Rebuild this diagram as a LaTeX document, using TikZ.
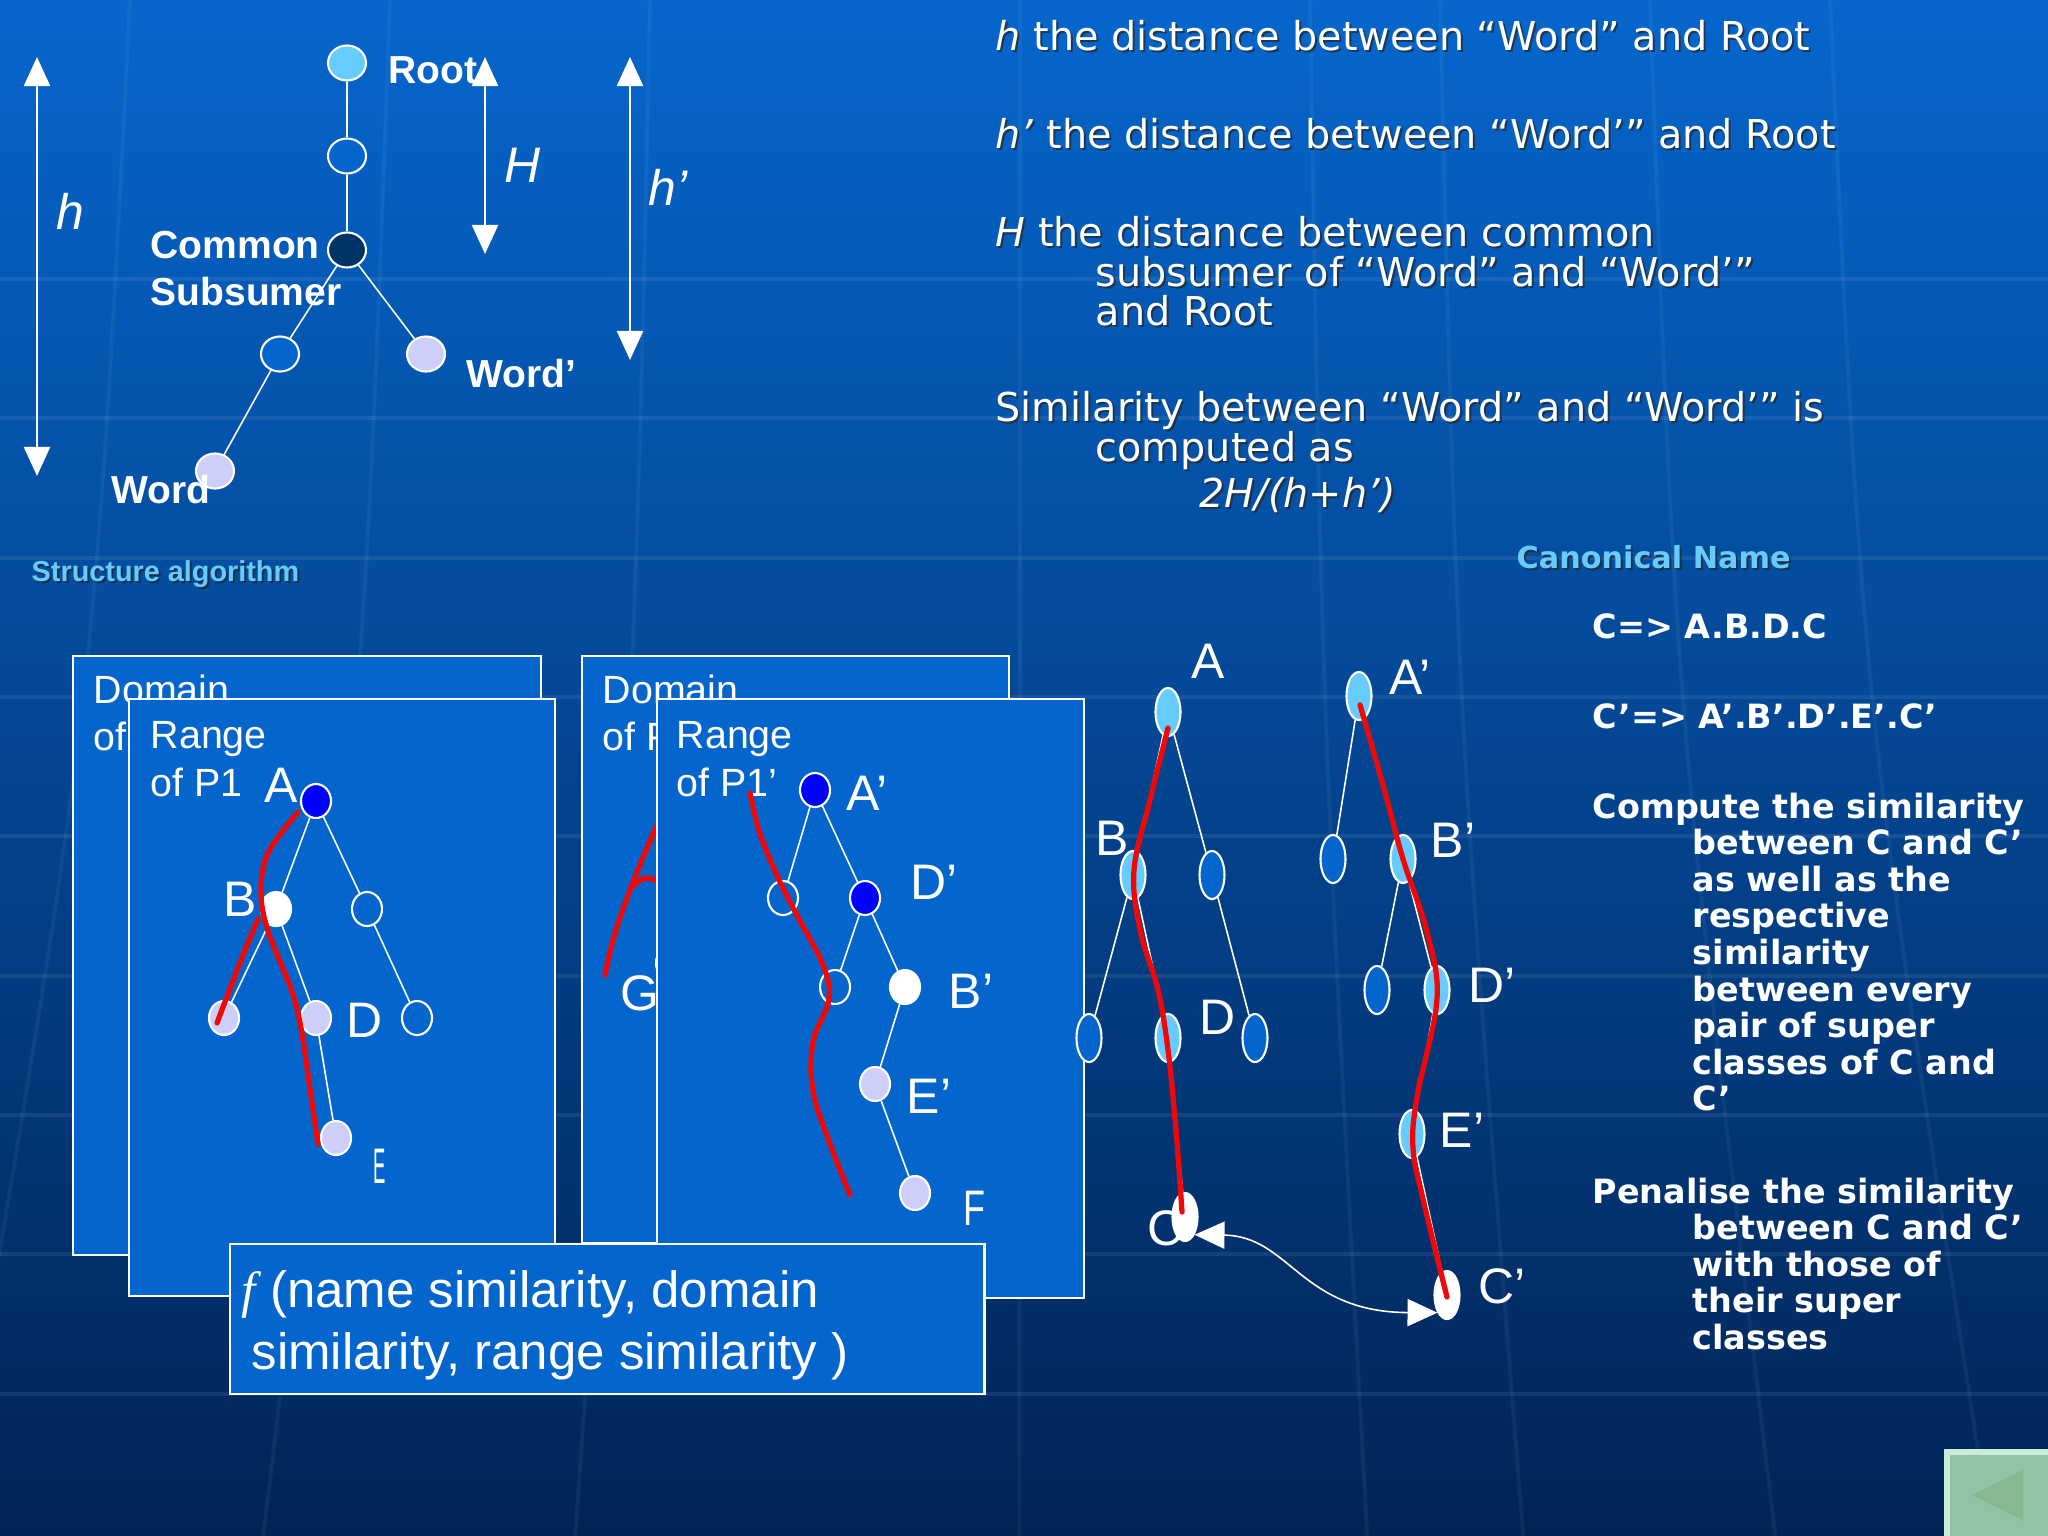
\documentclass[tikz,border=0pt]{standalone}
\usepackage{fontspec}
\usepackage{graphicx}
\setmainfont{Liberation Sans}
\newfontfamily\dejavu{DejaVu Sans}
\newfontfamily\timesf{Liberation Serif}
\usetikzlibrary{shapes.geometric,arrows.meta}

\definecolor{bgtop}{RGB}{6,102,204}
\definecolor{bgmid}{RGB}{3,72,152}
\definecolor{bgbot}{RGB}{1,36,86}
\definecolor{panelblue}{RGB}{4,102,204}
\definecolor{lightblue}{RGB}{102,204,255}
\definecolor{navy}{RGB}{0,51,102}
\definecolor{lavender}{RGB}{206,206,250}
\definecolor{penred}{RGB}{240,8,8}
\definecolor{btngreen}{RGB}{143,196,164}
\definecolor{btnlight}{RGB}{200,236,214}
\definecolor{btnshade}{RGB}{134,184,146}

% text with a dark drop shadow: style, name, position, text
\newcommand{\shtext}[4]{%
  \node[#1, text=black!85, opacity=0.7] (#2s) at ([shift={(2,2)}]#3) {#4};
  \node[#1] (#2) at (#3) {#4};}

\begin{document}
\begin{tikzpicture}[x=0.01cm, y=-0.01cm,
  topnode/.style={ellipse, draw=white, line width=0.6pt, minimum width=0.38cm, minimum height=0.35cm, inner sep=0pt},
  bignode/.style={ellipse, draw=white, line width=0.6pt, minimum width=0.25cm, minimum height=0.48cm, inner sep=0pt},
  pnode/.style={ellipse, draw=white, line width=0.6pt, minimum width=0.30cm, minimum height=0.34cm, inner sep=0pt},
  branch/.style={white, line width=0.45pt},
  pen/.style={penred, line width=1.5pt, line cap=round, line join=round},
  bigarrow/.style={white, line width=0.75pt, >={Triangle[width=7.4pt,length=8.3pt]}, <->},
  gridline/.style={white, opacity=0.08, line width=1.1pt},
  panel/.style={draw=white, fill=panelblue, line width=0.6pt, anchor=north west, inner sep=0pt},
  tlabel/.style={text=white, font=\fontsize{11.1}{13}\selectfont\bfseries, inner sep=0pt, anchor=base west},
  itlabel/.style={text=white, font=\fontsize{14.2}{16}\selectfont\itshape, inner sep=0pt, anchor=base west},
  treelab/.style={text=white, font=\fontsize{14.2}{16}\selectfont, inner sep=0pt},
  toptxt/.style={text=white, font=\dejavu\fontsize{11.3}{13}\selectfont, inner sep=0pt, anchor=base west},
  capname/.style={text=lightblue, font=\fontsize{8.2}{10}\selectfont\bfseries, inner sep=0pt, anchor=base west},
  cantitle/.style={text=lightblue, font=\dejavu\bfseries\fontsize{8.6}{10}\selectfont, inner sep=0pt, anchor=base west},
  canon/.style={text=white, font=\dejavu\bfseries\fontsize{9.5}{11}\selectfont, inner sep=0pt, anchor=base west},
  paneltxt/.style={text=white, font=\fontsize{11.2}{13}\selectfont, inner sep=0pt, anchor=base west},
  ftxt/.style={text=white, font=\fontsize{14.5}{17}\selectfont, inner sep=0pt, anchor=base west}]

\useasboundingbox (0,0) rectangle (2048,1536);
\shade[top color=bgtop, middle color=bgmid, bottom color=bgbot] (0,0) rectangle (2048,1536);
\foreach \yy in {279,418,558,697,836,976,1115,1254,1394}
  \draw[gridline] (0,\yy) -- (2048,\yy);
\foreach \xx in {130,390,650,1020,1310,1440,1650,1830}
  \draw[gridline, opacity=0.05] (\xx,0) .. controls ({\xx+(\xx-1024)*0.04},700) .. ({\xx+(\xx-1024)*0.2},1536);

% structure algorithm tree
\node[topnode, fill=lightblue] (root) at (347,63) {};
\node[topnode, fill=panelblue] (mid) at (347,156) {};
\node[topnode, fill=navy] (cs) at (347,250) {};
\node[topnode, fill=panelblue] (lft) at (280,354) {};
\node[topnode, fill=lavender] (wordp) at (426,354) {};
\node[topnode, fill=lavender] (word) at (215,471) {};
\draw[branch] (root) -- (mid);
\draw[branch] (mid) -- (cs);
\draw[branch] (cs) -- (lft);
\draw[branch] (lft) -- (word);
\draw[branch] (cs) -- (wordp);
\node[tlabel] (rootlab) at (388,83) {Root};
\node[tlabel] (comlab) at (150,258) {Common};
\node[tlabel] (sublab) at (150,305) {Subsumer};
\node[tlabel] (wplab) at (466,387) {Word’};
\node[tlabel] (wlab) at (111,503) {Word};
\coordinate (hT) at (37,57); \coordinate (hB) at (37,476);
\coordinate (HT) at (485,57); \coordinate (HB) at (485,254);
\coordinate (hpT) at (630,57); \coordinate (hpB) at (630,360);
\draw[bigarrow] (hT) -- (hB);
\draw[bigarrow] (HT) -- (HB);
\draw[bigarrow] (hpT) -- (hpB);
\node[itlabel] (hlab) at (56,229) {h};
\node[itlabel] (Hlab) at (504,182) {H};
\node[itlabel] (hplab) at (648,205) {h’};
\shtext{capname}{salg}{31,581}{Structure algorithm}

% definitions
\shtext{toptxt}{t1}{995,50}{\textit{h} the distance between “Word” and Root}
\shtext{toptxt}{t2}{995,148}{\textit{h’} the distance between “Word’” and Root}
\shtext{toptxt}{t3}{995,246}{\textit{H} the distance between common}
\shtext{toptxt}{t3b}{1095,286}{subsumer of “Word” and “Word’”}
\shtext{toptxt}{t3c}{1095,325}{and Root}
\shtext{toptxt}{t4}{995,421}{Similarity between “Word” and “Word’” is}
\shtext{toptxt}{t4b}{1095,461}{computed as}
\shtext{toptxt}{t4c}{1199,507}{\textit{2H/(h+h’)}}

% domain and range panels
\node[panel, minimum width=4.68cm, minimum height=5.99cm] (dom1) at (72,655) {};
\node[paneltxt] (dom1a) at (93,703) {Domain};
\node[paneltxt] (dom1b) at (93,750) {of P1};
\node[panel, minimum width=4.26cm, minimum height=5.97cm] (ran1) at (128,698) {};
\node[paneltxt] (ran1a) at (150,748) {Range};
\node[paneltxt] (ran1b) at (150,796) {of P1};
\node[treelab] (pAl) at (281,785) {A};
\node[treelab] (pBl) at (240,899) {B};
\node[treelab] (pDl) at (365,1020) {D};
\node[treelab] (pEl) at (380,1166) {\scalebox{0.37}[1]{E}};
\node[pnode, fill=blue] (pA) at (316,801) {};
\node[pnode, fill=white] (pB) at (276,909) {};
\node[pnode, fill=panelblue] (pR) at (367,909) {};
\node[pnode, fill=lavender] (pL) at (224,1018) {};
\node[pnode, fill=lavender] (pD) at (316,1018) {};
\node[pnode, fill=panelblue] (pRR) at (417,1018) {};
\node[pnode, fill=lavender] (pE) at (336,1138) {};
\draw[branch] (pA) -- (pB);
\draw[branch] (pA) -- (pR);
\draw[branch] (pB) -- (pL);
\draw[branch] (pB) -- (pD);
\draw[branch] (pR) -- (pRR);
\draw[branch] (pD) -- (pE);
\draw[pen] plot[smooth, tension=0.6] coordinates {(298,812) (268,853) (261,892) (268,931) (291,989) (301,1028) (311,1096) (318,1144)};
\draw[pen] plot[smooth, tension=0.6] coordinates {(258,919) (241,960) (217,1023)};

\node[panel, minimum width=4.27cm, minimum height=5.87cm] (dom2) at (581,655) {};
\node[paneltxt] (dom2a) at (602,703) {Domain};
\node[paneltxt] (dom2b) at (602,750) {of P1’};
\node[treelab] (gl) at (640,993) {G};
\node[pnode, fill=lavender] (gnode) at (671,963) {};
\draw[pen] plot[smooth, tension=0.6] coordinates {(605,975) (615,933) (635,877) (657,825)};
\draw[pen] plot[smooth, tension=0.6] coordinates {(633,886) (645,878) (660,882)};
\node[panel, minimum width=4.27cm, minimum height=5.99cm] (ran2) at (656,698) {};
\node[paneltxt] (ran2a) at (676,748) {Range};
\node[paneltxt] (ran2b) at (676,796) {of P1’};
\node[treelab] (qAl) at (867,793) {A’};
\node[treelab] (qDl) at (934,882) {D’};
\node[treelab] (qBl) at (971,991) {B’};
\node[treelab] (qEl) at (929,1096) {E’};
\node[treelab] (qFl) at (974,1208) {\scalebox{0.72}[1]{F}};
\node[pnode, fill=blue] (qA) at (815,790) {};
\node[pnode, fill=panelblue] (qL) at (783,898) {};
\node[pnode, fill=blue] (qD) at (865,898) {};
\node[pnode, fill=panelblue] (qDL) at (835,987) {};
\node[pnode, fill=white] (qB) at (905,987) {};
\node[pnode, fill=lavender] (qE) at (875,1084) {};
\node[pnode, fill=lavender] (qF) at (915,1193) {};
\draw[branch] (qA) -- (qL);
\draw[branch] (qA) -- (qD);
\draw[branch] (qD) -- (qDL);
\draw[branch] (qD) -- (qB);
\draw[branch] (qB) -- (qE);
\draw[branch] (qE) -- (qF);
\draw[pen] plot[smooth, tension=0.6] coordinates {(750,793) (760,834) (780,882) (800,921) (823,965) (829,999) (813,1042) (813,1091) (830,1144) (850,1195)};

\node[panel, minimum width=7.54cm, minimum height=1.5cm] (fbox) at (229,1243) {};
\node[ftxt] (f1) at (241,1307) {{\timesf\itshape f} (name similarity, domain};
\node[ftxt] (f2) at (251,1369) {similarity, range similarity )};

% the two class hierarchies
\node[treelab] (bAl) at (1208,661) {A};
\node[treelab] (bBl) at (1112,838) {B};
\node[treelab] (bDl) at (1218,1017) {D};
\node[treelab] (bCl) at (1166,1228) {C};
\node[bignode, fill=lightblue] (bA) at (1168,712) {};
\node[bignode, fill=lightblue] (bB) at (1133,875) {};
\node[bignode, fill=panelblue] (bR) at (1212,875) {};
\node[bignode, fill=panelblue] (bL) at (1089,1038) {};
\node[bignode, fill=lightblue] (bD) at (1168,1038) {};
\node[bignode, fill=panelblue] (bRR) at (1255,1038) {};
\node[bignode, fill=white] (bC) at (1185,1217) {};
\draw[branch] (bA) -- (bB);
\draw[branch] (bA) -- (bR);
\draw[branch] (bB) -- (bL);
\draw[branch] (bB) -- (bD);
\draw[branch] (bR) -- (bRR);
\draw[branch] (bD) -- (bC);

\node[treelab] (rAl) at (1410,677) {A’};
\node[treelab] (rBl) at (1453,840) {B’};
\node[treelab] (rDl) at (1492,985) {D’};
\node[treelab] (rEl) at (1462,1130) {E’};
\node[treelab] (rCl) at (1502,1286) {C’};
\node[bignode, fill=lightblue] (rA) at (1359,696) {};
\node[bignode, fill=panelblue] (rL) at (1333,859) {};
\node[bignode, fill=lightblue] (rB) at (1403,859) {};
\node[bignode, fill=panelblue] (rBL) at (1377,990) {};
\node[bignode, fill=lightblue] (rD) at (1437,990) {};
\node[bignode, fill=lightblue] (rE) at (1412,1134) {};
\node[bignode, fill=white] (rC) at (1447,1295) {};
\draw[branch] (rA) -- (rL);
\draw[branch] (rA) -- (rB);
\draw[branch] (rB) -- (rBL);
\draw[branch] (rB) -- (rD);
\draw[branch] (rD) -- (rE);
\draw[branch] (rE) -- (rC);

\draw[pen] plot[smooth, tension=0.6] coordinates {(1168,728) (1150,800) (1134,870) (1140,930) (1158,990) (1168,1050) (1176,1130) (1182,1212)};
\draw[pen] plot[smooth, tension=0.6] coordinates {(1360,705) (1383,785) (1403,859) (1427,932) (1437,999) (1417,1097) (1413,1148) (1423,1199) (1447,1297)};
\draw[white, line width=0.45pt, >={Triangle[width=7.7pt,length=8.5pt]}, <->] (bC.south east) .. controls (1290,1236) and (1300,1312) .. (rC.south west);

% canonical names
\shtext{cantitle}{cname}{1516,568}{Canonical Name}
\node[canon] (c1) at (1592,638) {C=> A.B.D.C};
\node[canon] (c2) at (1592,728) {C’=> A’.B’.D’.E’.C’};
\node[canon] (c3) at (1592,818) {Compute the similarity};
\foreach \t [count=\i from 1] in {between C and C’, as well as the, respective, similarity, between every, pair of super, classes of C and, C’}
  \node[canon] (c3-\i) at (1692,818+36.6*\i) {\t};
\node[canon] (c4) at (1592,1203) {Penalise the similarity};
\foreach \t [count=\i from 1] in {between C and C’, with those of, their super, classes}
  \node[canon] (c4-\i) at (1692,1203+36.6*\i) {\t};

% back button
\fill[btngreen] (1946,1451) rectangle (2048,1536);
\draw[btnlight, line width=1.5pt] (1947,1536) -- (1947,1452) -- (2048,1452);
\fill[btnshade] (1972,1495) -- (2023,1470) -- (2023,1520) -- cycle;
\end{tikzpicture}
\end{document}
